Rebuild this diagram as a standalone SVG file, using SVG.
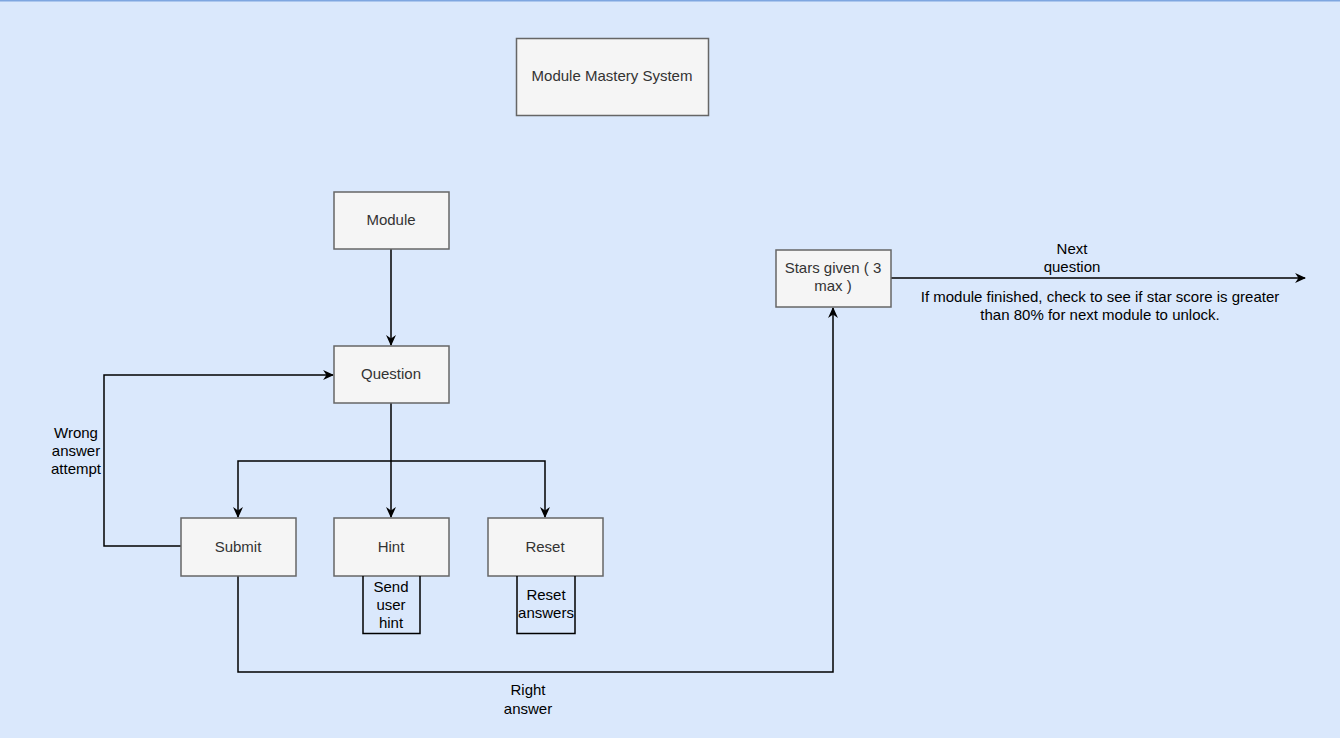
<svg xmlns="http://www.w3.org/2000/svg" width="1340" height="738" viewBox="0 0 1340 738">
  <style>
    .node rect { fill: #f5f5f5; stroke: #666666; stroke-width: 1.5; }
    .node text { font-family: "Liberation Sans", Arial, sans-serif; font-size: 15px; fill: #333333; text-anchor: middle; }
    .note path { fill: none; stroke: #000000; stroke-width: 1.5; }
    .note text, .label { font-family: "Liberation Sans", Arial, sans-serif; font-size: 15px; fill: #000000; text-anchor: middle; }
    .edge { fill: none; stroke: #000000; stroke-width: 1.5; }
  </style>
  <defs>
    <marker id="arrow" viewBox="0 0 10 10" refX="9" refY="5" markerWidth="11" markerHeight="11" markerUnits="userSpaceOnUse" orient="auto">
      <path d="M0,0.5 L10,5 L0,9.5 L3,5 Z" fill="#000000"/>
    </marker>
  </defs>

  <rect x="0" y="0" width="1340" height="738" fill="#dae8fc"/>
  <line x1="0" y1="0.75" x2="1340" y2="0.75" stroke="#7ea6e0" stroke-width="1.5"/>

  <g id="connectors">
    <path class="edge" d="M391,249 V345" marker-end="url(#arrow)"/>
    <path class="edge" d="M391,403 V517" marker-end="url(#arrow)"/>
    <path class="edge" d="M391,461 H238 V517" marker-end="url(#arrow)"/>
    <path class="edge" d="M391,461 H545 V517" marker-end="url(#arrow)"/>
    <path class="edge" d="M181,546 H104 V375 H333" marker-end="url(#arrow)"/>
    <path class="edge" d="M238,576 V672 H833 V308" marker-end="url(#arrow)"/>
    <path class="edge" d="M891,278 H1305" marker-end="url(#arrow)"/>
    <text class="label" x="76" y="438">Wrong</text>
    <text class="label" x="76" y="456">answer</text>
    <text class="label" x="76" y="474">attempt</text>
    <text class="label" x="528" y="695">Right</text>
    <text class="label" x="528" y="714">answer</text>
    <text class="label" x="1072" y="254">Next</text>
    <text class="label" x="1072" y="272">question</text>
    <text class="label" x="1100" y="302">If module finished, check to see if star score is greater</text>
    <text class="label" x="1100" y="320">than 80% for next module to unlock.</text>
  </g>

  <g id="title" class="node">
    <rect x="516.5" y="38.5" width="192" height="77"/>
    <text x="612" y="81">Module Mastery System</text>
  </g>
  <g id="module" class="node">
    <rect x="334" y="192" width="115" height="57"/>
    <text x="391" y="225">Module</text>
  </g>
  <g id="question" class="node">
    <rect x="334" y="346" width="115" height="57"/>
    <text x="391" y="379">Question</text>
  </g>
  <g id="submit" class="node">
    <rect x="181" y="518" width="115" height="58"/>
    <text x="238" y="552">Submit</text>
  </g>
  <g id="hint" class="node">
    <rect x="334" y="518" width="115" height="58"/>
    <text x="391" y="552">Hint</text>
  </g>
  <g id="reset" class="node">
    <rect x="488" y="518" width="115" height="58"/>
    <text x="545" y="552">Reset</text>
  </g>
  <g id="stars" class="node">
    <rect x="776" y="250" width="115" height="57"/>
    <text x="833" y="273">Stars given ( 3</text>
    <text x="833" y="291">max )</text>
  </g>
  <g id="hint-note" class="note">
    <path d="M363,576 V633.5 H420 V576"/>
    <text x="391" y="592">Send</text>
    <text x="391" y="610">user</text>
    <text x="391" y="628">hint</text>
  </g>
  <g id="reset-note" class="note">
    <path d="M517,576 V633.5 H575 V576"/>
    <text x="546" y="600">Reset</text>
    <text x="546" y="618">answers</text>
  </g>
</svg>
